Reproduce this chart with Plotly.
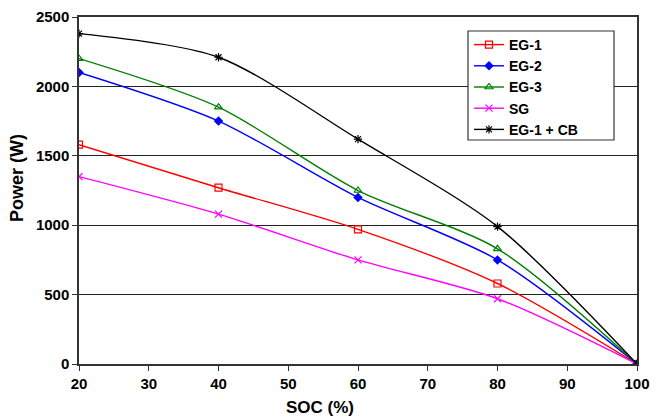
import plotly.graph_objects as go

soc = [20, 40, 60, 80, 100]
eg1 = [1580, 1270, 970, 580, 0]
eg2 = [2100, 1750, 1200, 750, 0]
eg3 = [2200, 1850, 1250, 830, 0]
sg = [1350, 1080, 750, 470, 0]
eg1cb = [2380, 2210, 1620, 990, 0]

series = [
    ("EG-1", eg1, "#FF0000", "square-open", 7),
    ("EG-2", eg2, "#0000FF", "diamond", 6),
    ("EG-3", eg3, "#008000", "triangle-up-open", 7),
    ("SG", sg, "#FF00FF", "x-thin-open", 7),
    ("EG-1 + CB", eg1cb, "#000000", "asterisk-open", 7),
]

fig = go.Figure()
for name, vals, color, sym, sz in series:
    fig.add_trace(go.Scatter(
        x=soc, y=vals, name=name, mode="lines+markers",
        line=dict(color=color, width=1.4, shape="spline", smoothing=0.8),
        marker=dict(symbol=sym, size=sz, color=color, line=dict(color=color, width=1.2)),
    ))

font = "Liberation Sans, Arial, sans-serif"
PW, PH, L, T = 558, 347, 79, 17
# legend box
fig.add_shape(type="rect", xref="paper", yref="paper",
              x0=(468 - L) / PW, x1=(614 - L) / PW,
              y0=(364 - 140) / PH, y1=(364 - 31) / PH,
              fillcolor="white", line=dict(color="#333", width=1.2), layer="above")

fig.add_annotation(text="SOC (%)", xref="paper", yref="paper",
                   x=(320 - L) / PW, y=(364 - 407) / PH, showarrow=False,
                   xanchor="center", yanchor="middle",
                   font=dict(size=17, family=font, weight="bold", color="black"))
fig.add_annotation(text="Power (W)", xref="paper", yref="paper",
                   x=(17 - L) / PW, y=(364 - 178) / PH, showarrow=False, textangle=-90,
                   xanchor="center", yanchor="middle",
                   font=dict(size=18, family=font, weight="bold", color="black"))

fig.update_layout(
    width=651, height=418,
    margin=dict(l=79, r=14, t=17, b=54),
    plot_bgcolor="white", paper_bgcolor="white",
    font=dict(family=font, color="black"),
    legend=dict(
        x=(469 - L) / PW, y=(364 - 29) / PH, xanchor="left", yanchor="top",
        bgcolor="rgba(0,0,0,0)", borderwidth=0,
        font=dict(size=14, family=font, weight="bold"),
        tracegroupgap=0, itemwidth=30,
    ),
    xaxis=dict(
        range=[20, 100], tickvals=[20, 30, 40, 50, 60, 70, 80, 90, 100],
        showgrid=False, showline=True, linecolor="#333", linewidth=1.5, mirror=True,
        ticks="outside", ticklen=5, tickcolor="#333",
        tickfont=dict(size=15, family=font, weight="bold"),
        zeroline=False, automargin=False,
    ),
    yaxis=dict(
        range=[0, 2500], tickvals=[0, 500, 1000, 1500, 2000, 2500],
        showgrid=True, gridcolor="#222", gridwidth=1,
        showline=True, linecolor="#333", linewidth=1.5, mirror=True,
        ticks="outside", ticklen=5, tickcolor="#333",
        tickfont=dict(size=15, family=font, weight="bold"),
        zeroline=False, automargin=False,
    ),
)
fig.write_html("out.html")
